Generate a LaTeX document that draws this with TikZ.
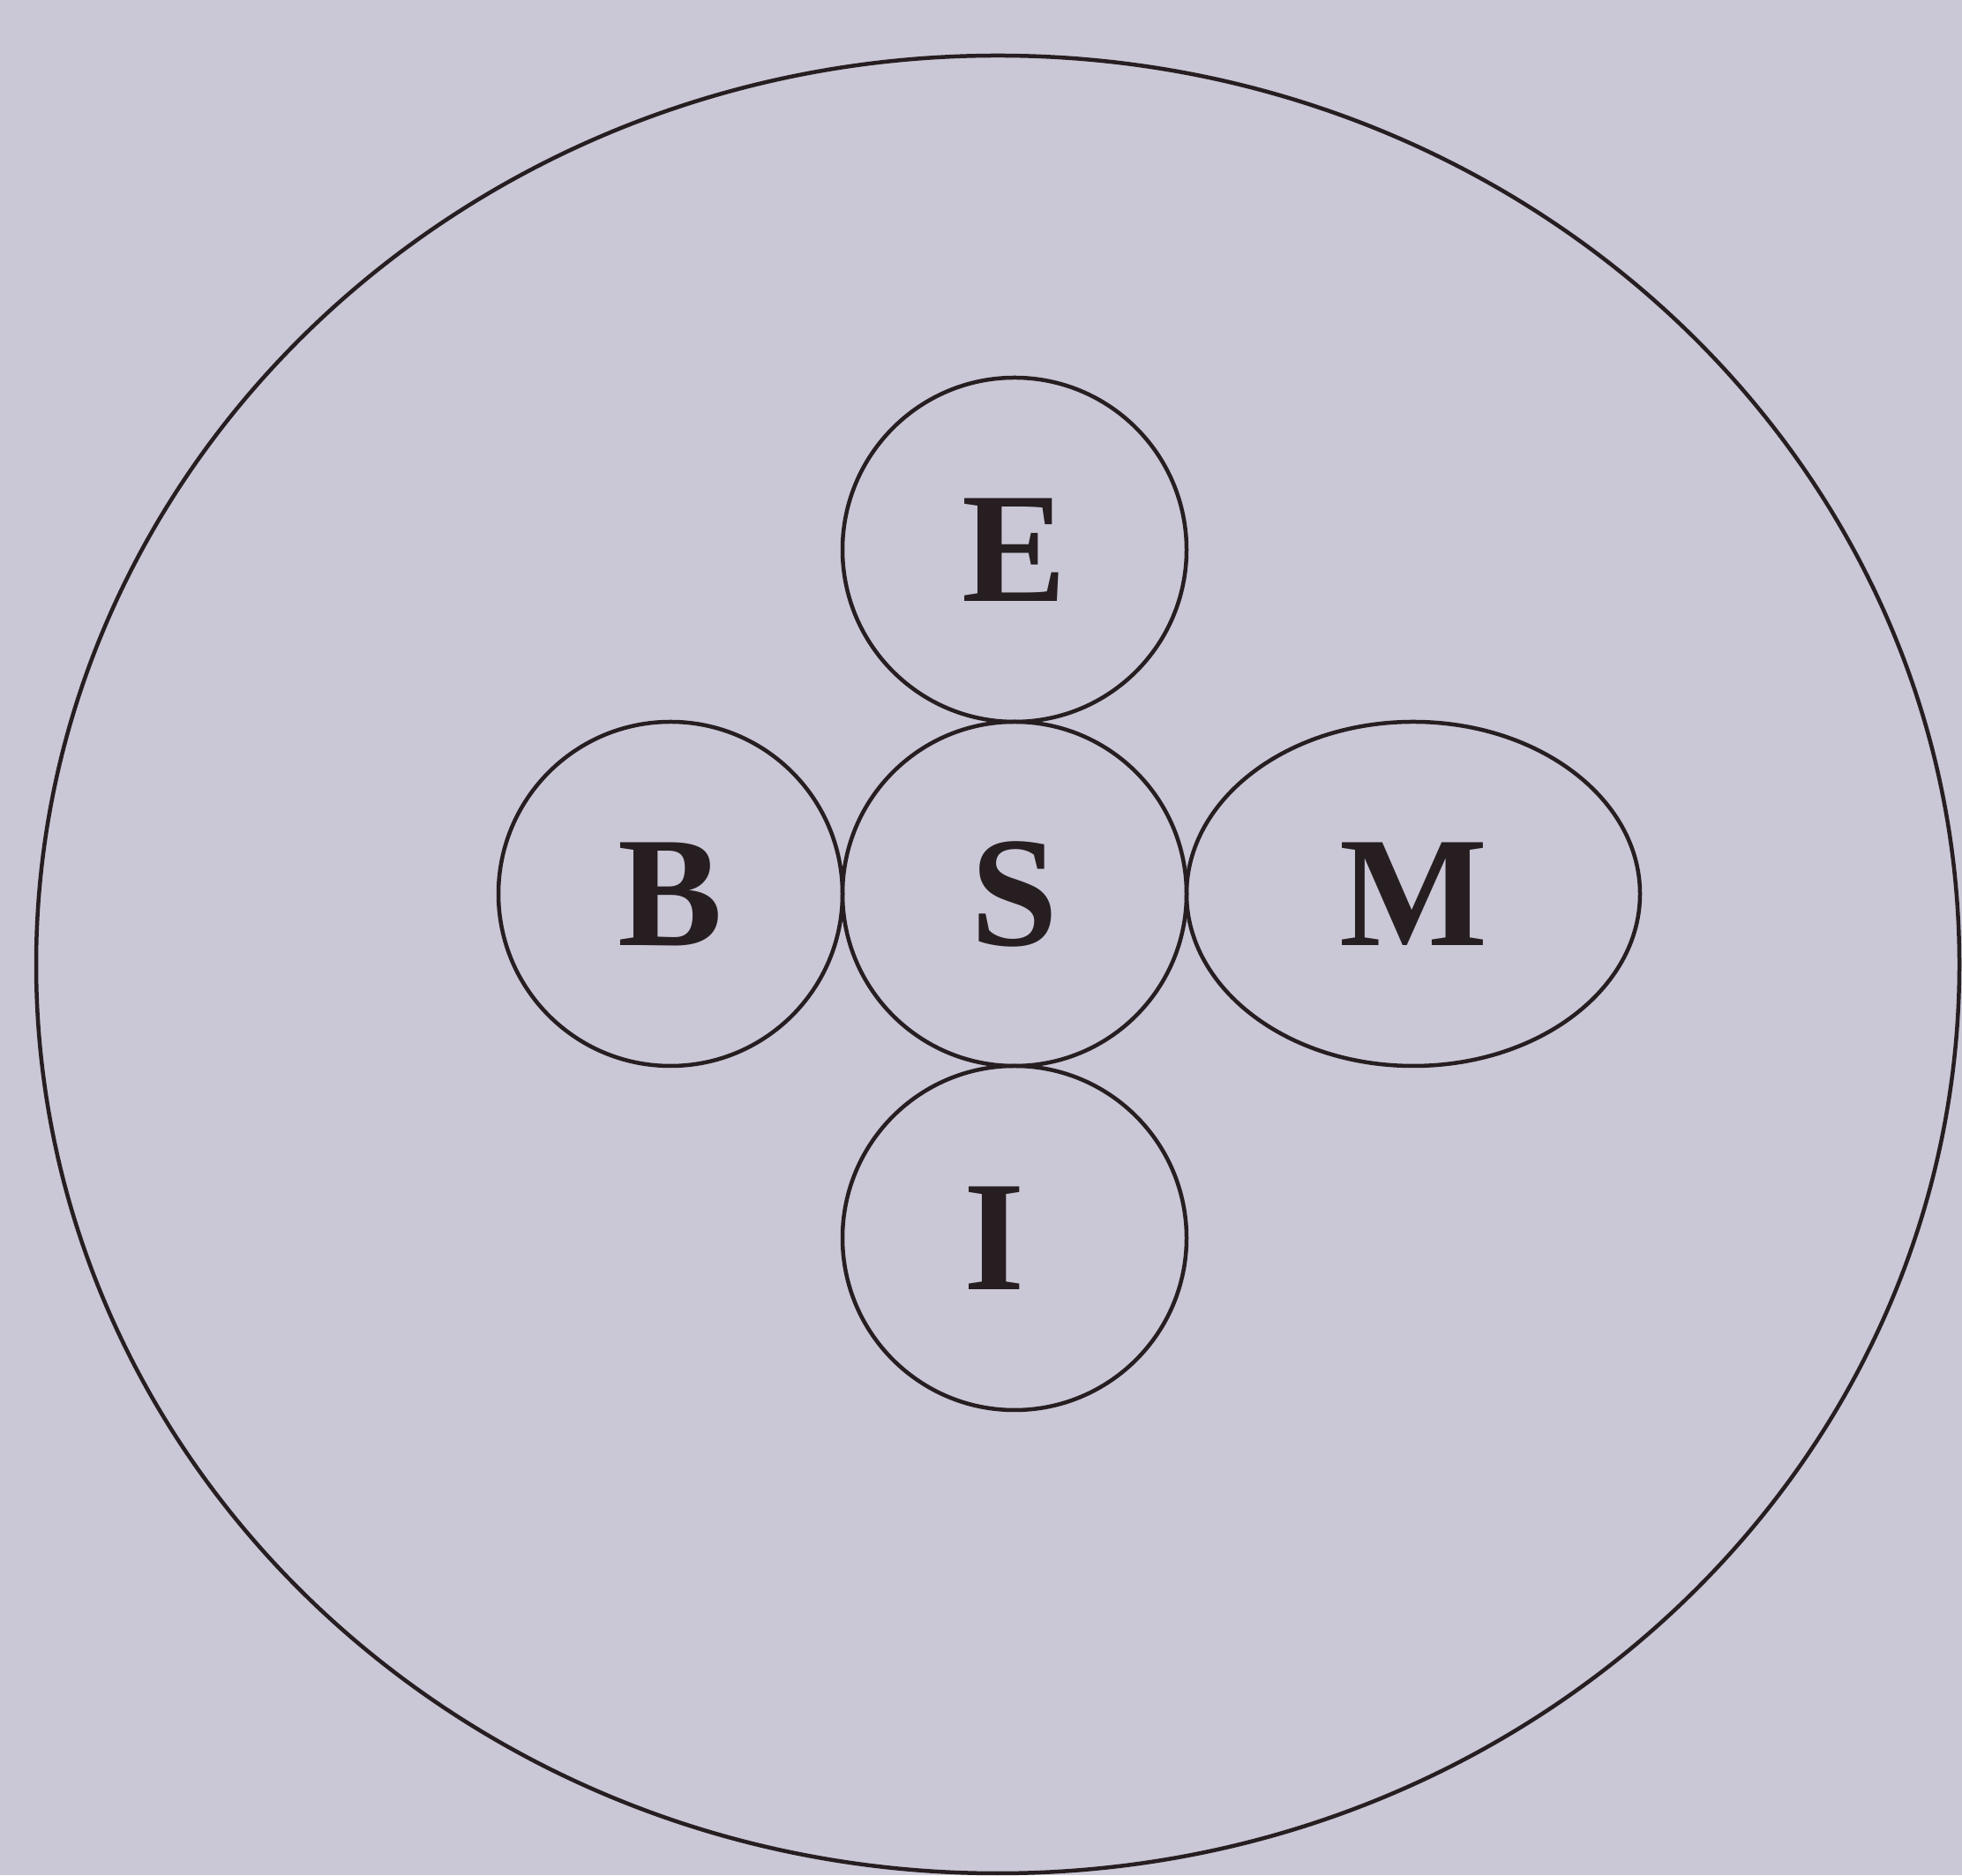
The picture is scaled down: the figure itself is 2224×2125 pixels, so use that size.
\documentclass[tikz,border=0pt]{standalone}
\usepackage{fontspec}
\setmainfont{Liberation Serif}
\usetikzlibrary{shapes.geometric}
\definecolor{bgcol}{RGB}{202,199,215}
\definecolor{inkcol}{RGB}{38,30,32}
\begin{document}
\begin{tikzpicture}[x=1pt,y=1pt,
  ring/.style={draw=inkcol, line width=4.5pt, circle, inner sep=0pt, minimum size=390pt,
    font=\fontsize{178}{178}\selectfont\bfseries, text=inkcol},
  oval/.style={draw=inkcol, line width=4.5pt, ellipse, inner sep=0pt,
    font=\fontsize{178}{178}\selectfont\bfseries, text=inkcol}]
\fill[bgcol] (0,0) rectangle (2224,2125);
\useasboundingbox (0,0) rectangle (2224,2125);
\node[oval, minimum width=2180pt, minimum height=2060pt] (outer) at (1131,1032) {};
\node[ring] (S) at (1150,1112) {S};
\node[ring] (E) at (1150,1502) {E};
\node[ring] (I) at (1150,722) {I\kern46pt};
\node[ring] (B) at (760,1112) {B};
\node[oval, minimum width=514pt, minimum height=390pt] (M) at (1602,1112) {M};
\end{tikzpicture}
\end{document}
